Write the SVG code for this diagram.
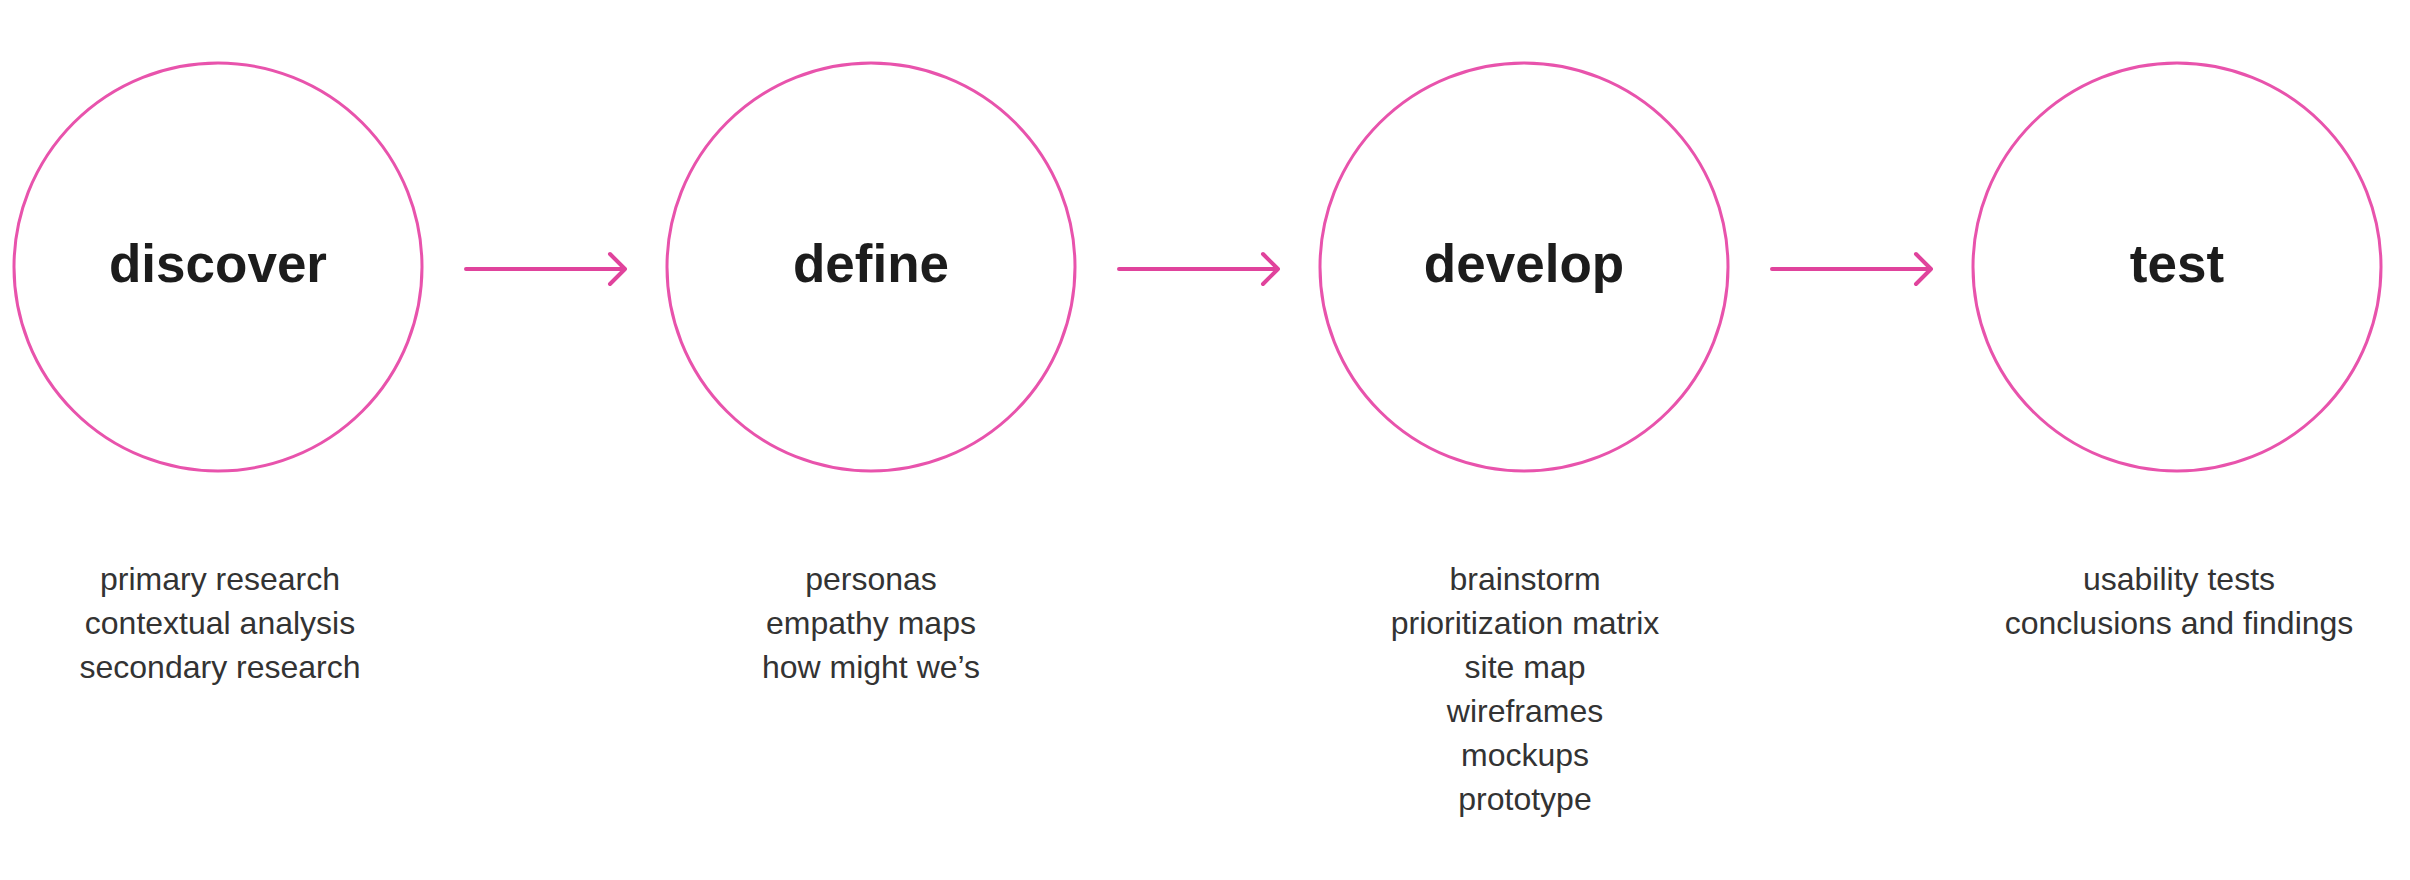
<svg xmlns="http://www.w3.org/2000/svg" width="2410" height="880" viewBox="0 0 2410 880">
<defs>
<style>
.ring{fill:none;stroke:#e853ac;stroke-width:3}
.title{font-family:"Liberation Sans",Arial,sans-serif;font-weight:bold;font-size:53px;fill:#1c1c1c;text-anchor:middle}
.item{font-family:"Liberation Sans",Arial,sans-serif;font-size:32px;fill:#333;text-anchor:middle}
.conn{stroke:#e0439c;stroke-width:4;fill:none;stroke-linecap:round;stroke-linejoin:round}
</style>
</defs>
<rect width="2410" height="880" fill="#fff"/>
<g id="discover">
<circle class="ring" cx="218" cy="267" r="204"/>
<text class="title" x="218" y="282">discover</text>
<text class="item" x="220" y="590">primary research</text>
<text class="item" x="220" y="634">contextual analysis</text>
<text class="item" x="220" y="678">secondary research</text>
</g>
<g id="define">
<circle class="ring" cx="871" cy="267" r="204"/>
<text class="title" x="871" y="282">define</text>
<text class="item" x="871" y="590">personas</text>
<text class="item" x="871" y="634">empathy maps</text>
<text class="item" x="871" y="678">how might we’s</text>
</g>
<g id="develop">
<circle class="ring" cx="1524" cy="267" r="204"/>
<text class="title" x="1524" y="282">develop</text>
<text class="item" x="1525" y="590">brainstorm</text>
<text class="item" x="1525" y="634">prioritization matrix</text>
<text class="item" x="1525" y="678">site map</text>
<text class="item" x="1525" y="722">wireframes</text>
<text class="item" x="1525" y="766">mockups</text>
<text class="item" x="1525" y="810">prototype</text>
</g>
<g id="test">
<circle class="ring" cx="2177" cy="267" r="204"/>
<text class="title" x="2177" y="282">test</text>
<text class="item" x="2179" y="590">usability tests</text>
<text class="item" x="2179" y="634">conclusions and findings</text>
</g>
<g id="connectors">
<path class="conn" d="M466 269H625M610 254L625 269L610 284"/>
<path class="conn" d="M1119 269H1278M1263 254L1278 269L1263 284"/>
<path class="conn" d="M1772 269H1931M1916 254L1931 269L1916 284"/>
</g>
</svg>
